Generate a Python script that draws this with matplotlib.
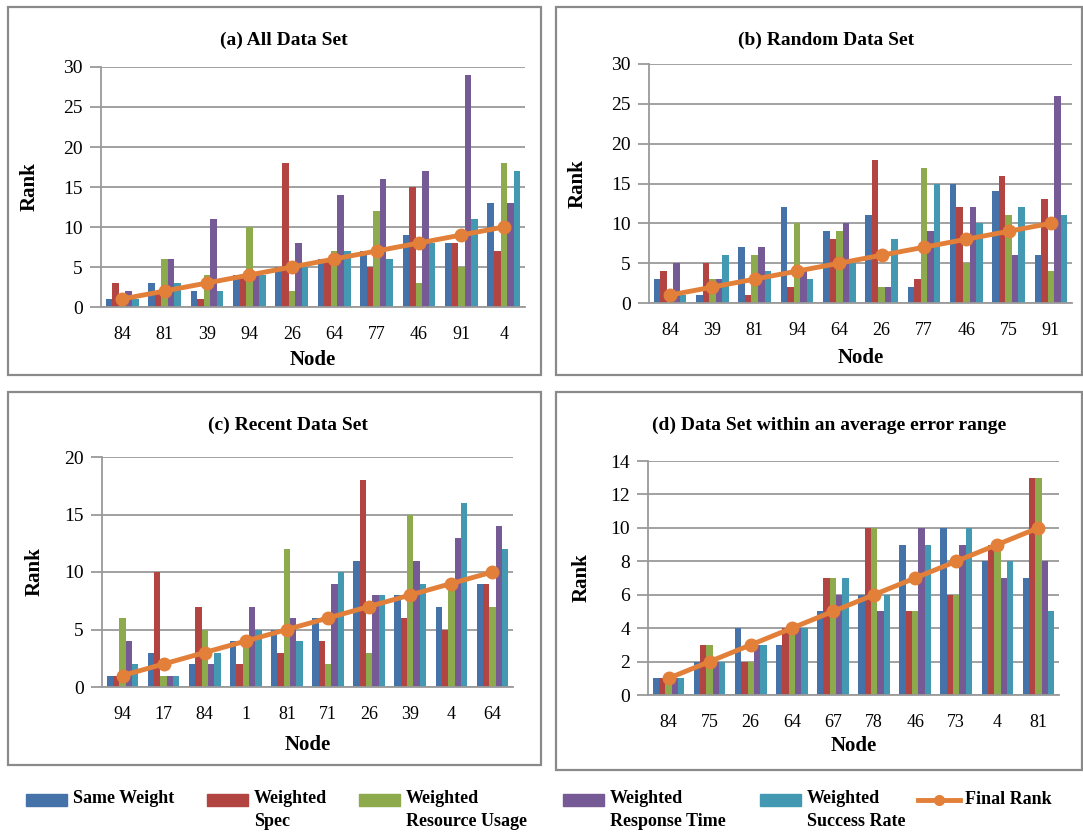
import matplotlib
matplotlib.use('Agg')
import matplotlib.pyplot as plt
import numpy as np
from matplotlib.patches import Rectangle
from matplotlib.lines import Line2D

plt.rcParams['font.family'] = ['Liberation Serif', 'DejaVu Serif']

series_names = ['Same Weight', 'Weighted\nSpec', 'Weighted\nResource Usage',
                'Weighted\nResponse Time', 'Weighted\nSuccess Rate']
final_name = 'Final Rank'

# (a) All Data Set
nodes_a = ['84', '81', '39', '94', '26', '64', '77', '46', '91', '4']
same_a = [1, 3, 2, 4, 5, 6, 7, 9, 8, 13]
spec_a = [3, 2, 1, 4, 18, 6, 5, 15, 8, 7]
usage_a = [1, 6, 4, 10, 2, 7, 12, 3, 5, 18]
resp_a = [2, 6, 11, 4, 8, 14, 16, 17, 29, 13]
succ_a = [1, 3, 2, 4, 5, 7, 6, 8, 11, 17]

# (b) Random Data Set
nodes_b = ['84', '39', '81', '94', '64', '26', '77', '46', '75', '91']
same_b = [3, 1, 7, 12, 9, 11, 2, 15, 14, 6]
spec_b = [4, 5, 1, 2, 8, 18, 3, 12, 16, 13]
usage_b = [1, 3, 6, 10, 9, 2, 17, 5, 11, 4]
resp_b = [5, 3, 7, 4, 10, 2, 9, 12, 6, 26]
succ_b = [1, 6, 4, 3, 5, 8, 15, 10, 12, 11]

# (c) Recent Data Set
nodes_c = ['94', '17', '84', '1', '81', '71', '26', '39', '4', '64']
same_c = [1, 3, 2, 4, 5, 6, 11, 8, 7, 9]
spec_c = [1, 10, 7, 2, 3, 4, 18, 6, 5, 9]
usage_c = [6, 1, 5, 4, 12, 2, 3, 15, 9, 7]
resp_c = [4, 1, 2, 7, 6, 9, 8, 11, 13, 14]
succ_c = [2, 1, 3, 5, 4, 10, 8, 9, 16, 12]

# (d) Data Set within an average error range
nodes_d = ['84', '75', '26', '64', '67', '78', '46', '73', '4', '81']
same_d = [1, 2, 4, 3, 5, 6, 9, 10, 8, 7]
spec_d = [1, 3, 2, 4, 7, 10, 5, 6, 9, 13]
usage_d = [1, 3, 2, 4, 7, 10, 5, 6, 9, 13]
resp_d = [1, 2, 3, 4, 6, 5, 10, 9, 7, 8]
succ_d = [1, 2, 3, 4, 7, 6, 9, 10, 8, 5]

final_rank = [1, 2, 3, 4, 5, 6, 7, 8, 9, 10]

colors = ['#4672AA', '#B24441', '#8DAA4C', '#755A96', '#4499B2']
orange = '#E2803A'
grid_col = '#9a9a9a'

W, H = 1083, 835
fig = plt.figure(figsize=(W / 100, H / 100), dpi=100)


def px_axes(x0, y0, x1, y1):
    return fig.add_axes([x0 / W, 1 - y1 / H, (x1 - x0) / W, (y1 - y0) / H])


def px_box(x0, y0, x1, y1):
    fig.add_artist(Rectangle((x0 / W, 1 - y1 / H), (x1 - x0) / W, (y1 - y0) / H,
                             transform=fig.transFigure, fill=False,
                             edgecolor='#8a8a8a', lw=1.6))


panels = [
    dict(box=(8, 7, 541, 375), ax=(101, 67, 525, 307), title='(a) All Data Set',
         tpos=(284, 40), nodes=nodes_a, data=[same_a, spec_a, usage_a, resp_a, succ_a],
         ymax=30, step=5, rank_x=30, node_y=360),
    dict(box=(556, 7, 1082, 375), ax=(649, 64, 1072, 303), title='(b) Random Data Set',
         tpos=(826, 40), nodes=nodes_b, data=[same_b, spec_b, usage_b, resp_b, succ_b],
         ymax=30, step=5, rank_x=578, node_y=358),
    dict(box=(8, 392, 541, 765), ax=(102, 457, 513, 687), title='(c) Recent Data Set',
         tpos=(288, 425), nodes=nodes_c, data=[same_c, spec_c, usage_c, resp_c, succ_c],
         ymax=20, step=5, rank_x=35, node_y=745),
    dict(box=(556, 392, 1082, 770), ax=(648, 461, 1059, 695),
         title='(d) Data Set within an average error range',
         tpos=(829, 425), nodes=nodes_d, data=[same_d, spec_d, usage_d, resp_d, succ_d],
         ymax=14, step=2, rank_x=582, node_y=746),
]

bw = 1 / 6.5
for p in panels:
    px_box(*p['box'])
    ax = px_axes(*p['ax'])
    x = np.arange(len(p['nodes']))
    for i, vals in enumerate(p['data']):
        ax.bar(x + (i - 2) * bw, vals, width=bw, color=colors[i], zorder=2)
    ax.plot(x, final_rank, color=orange, lw=3.5, marker='o', ms=9, zorder=3)
    ax.set_xlim(-0.5, len(x) - 0.5)
    ax.set_ylim(0, p['ymax'])
    ax.set_yticks(np.arange(0, p['ymax'] + 1, p['step']))
    ax.set_xticks(x)
    ax.set_xticklabels(p['nodes'])
    ax.yaxis.grid(True, color=grid_col, lw=1.3, zorder=0)
    ax.set_axisbelow(True)
    for s in ['top', 'right']:
        ax.spines[s].set_visible(False)
    ax.spines['left'].set_color(grid_col)
    ax.spines['bottom'].set_color(grid_col)
    ax.spines['left'].set_linewidth(1.3)
    ax.spines['bottom'].set_linewidth(1.3)
    ax.tick_params(axis='y', length=8, width=1.3, color=grid_col, labelsize=14, pad=5)
    ax.tick_params(axis='x', length=0, labelsize=13, pad=14)
    x0, y0, x1, y1 = p['ax']
    ax.set_ylabel('Rank', fontsize=15, fontweight='bold')
    ax.yaxis.set_label_coords((p['rank_x'] - x0) / (x1 - x0), 0.5)
    ax.yaxis.label.set_va('center')
    ax.set_xlabel('Node', fontsize=15, fontweight='bold')
    ax.xaxis.set_label_coords(0.5, -(p['node_y'] - y1) / (y1 - y0))
    ax.xaxis.label.set_va('center')
    fig.text(p['tpos'][0] / W, 1 - p['tpos'][1] / H, p['title'], ha='center',
             va='center', fontsize=14, fontweight='bold')

# legend, drawn by hand to match the two-line layout
leg_patch_x = [26, 207, 359, 563, 760]
for i, name in enumerate(series_names):
    px = leg_patch_x[i]
    fig.add_artist(Rectangle((px / W, 1 - 806 / H), 41 / W, 12 / H,
                             transform=fig.transFigure, color=colors[i]))
    fig.text((px + 47) / W, 1 - 790 / H, name, ha='left', va='top',
             fontsize=13, fontweight='bold', linespacing=1.45)
fig.add_artist(Line2D([918 / W, 960 / W], [1 - 800 / H, 1 - 800 / H],
                      transform=fig.transFigure, color=orange, lw=3.5))
fig.add_artist(Line2D([939 / W], [1 - 800 / H], transform=fig.transFigure,
                      color=orange, marker='o', ms=7))
fig.text(965 / W, 1 - 800 / H, final_name, ha='left', va='center',
         fontsize=13, fontweight='bold')

fig.savefig('out.png', dpi=100)
